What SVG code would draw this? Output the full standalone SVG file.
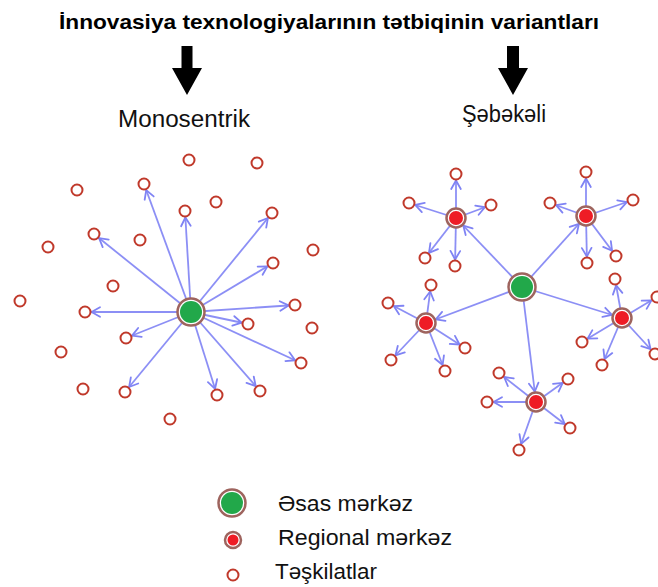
<svg xmlns="http://www.w3.org/2000/svg" width="658" height="587" viewBox="0 0 658 587">
  <style>
    .title { font-family: "Liberation Sans", "DejaVu Sans", sans-serif; font-weight: bold; font-size: 21px; fill: #000; }
    .label { font-family: "Liberation Sans", "DejaVu Sans", sans-serif; font-size: 23px; fill: #111; }
    .legend { font-family: "Liberation Sans", "DejaVu Sans", sans-serif; font-size: 22px; fill: #111; }
    .org { fill: #fff; stroke: #c0392b; stroke-width: 2; }
    .ring { fill: #fff; stroke: #9e645e; stroke-width: 2.5; }
    .main { fill: #22a84a; }
    .reg { fill: #ee1c25; }
    .link { stroke: #7f83f4; stroke-width: 1.8; stroke-opacity: 0.9; fill: none; }
    .to-org { marker-end: url(#tip); }
    .to-reg { marker-end: url(#tipReg); }
  </style>
  <defs>
    <marker id="tip" markerUnits="userSpaceOnUse" markerWidth="16" markerHeight="16" refX="15" refY="0" orient="auto" overflow="visible">
      <path d="M0,-4.8 L8.5,0 L0,4.8" fill="none" stroke="#7f83f4" stroke-width="1.8" stroke-linejoin="round" stroke-linecap="round"/>
    </marker>
    <marker id="tipReg" markerUnits="userSpaceOnUse" markerWidth="16" markerHeight="16" refX="19" refY="0" orient="auto" overflow="visible">
      <path d="M0,-4.8 L8.5,0 L0,4.8" fill="none" stroke="#7f83f4" stroke-width="1.8" stroke-linejoin="round" stroke-linecap="round"/>
    </marker>
  </defs>
  <rect width="658" height="587" fill="#fff"/>

  <!-- heading and the two variants -->
  <g id="heading">
    <text class="title" x="59" y="29" textLength="540" lengthAdjust="spacingAndGlyphs">İnnovasiya texnologiyalarının tətbiqinin variantları</text>
  </g>
  <g id="arrow-left">
    <path d="M181.5,46 H192.5 V68 H202 L187,95 L172,68 H181.5 Z" fill="#000"/>
  </g>
  <g id="arrow-right">
    <path d="M507,46 H519 V68 H528 L513,95 L498,68 H507 Z" fill="#000"/>
  </g>
  <g id="label-mono">
    <text class="label" x="118" y="127" textLength="132" lengthAdjust="spacingAndGlyphs">Monosentrik</text>
  </g>
  <g id="label-net">
    <text class="label" x="462" y="122" textLength="84" lengthAdjust="spacingAndGlyphs">Şəbəkəli</text>
  </g>

  <!-- connectors -->
  <g id="connectors">
    <!-- monocentric: hub to organisations -->
    <line class="link to-org" x1="191" y1="312" x2="144" y2="184"/>
    <line class="link to-org" x1="191" y1="312" x2="185" y2="211"/>
    <line class="link to-org" x1="191" y1="312" x2="272" y2="213"/>
    <line class="link to-org" x1="191" y1="312" x2="273" y2="263"/>
    <line class="link to-org" x1="191" y1="312" x2="94" y2="234"/>
    <line class="link to-org" x1="191" y1="312" x2="85" y2="312"/>
    <line class="link to-org" x1="191" y1="312" x2="295" y2="305"/>
    <line class="link to-org" x1="191" y1="312" x2="248" y2="324"/>
    <line class="link to-org" x1="191" y1="312" x2="126" y2="338"/>
    <line class="link to-org" x1="191" y1="312" x2="301" y2="363"/>
    <line class="link to-org" x1="191" y1="312" x2="125" y2="392"/>
    <line class="link to-org" x1="191" y1="312" x2="217" y2="395"/>
    <line class="link to-org" x1="191" y1="312" x2="260" y2="391"/>
    <!-- network: main hub to regional hubs -->
    <line class="link to-reg" x1="522" y1="287" x2="456" y2="218"/>
    <line class="link to-reg" x1="522" y1="287" x2="586" y2="216"/>
    <line class="link to-reg" x1="522" y1="287" x2="426" y2="323"/>
    <line class="link to-reg" x1="522" y1="287" x2="622" y2="318"/>
    <line class="link to-reg" x1="522" y1="287" x2="536" y2="402"/>
    <!-- regional hub A -->
    <line class="link to-org" x1="456" y1="218" x2="456" y2="174"/>
    <line class="link to-org" x1="456" y1="218" x2="409" y2="203"/>
    <line class="link to-org" x1="456" y1="218" x2="491" y2="205"/>
    <line class="link to-org" x1="456" y1="218" x2="425" y2="258"/>
    <line class="link to-org" x1="456" y1="218" x2="455" y2="266"/>
    <!-- regional hub B -->
    <line class="link to-org" x1="586" y1="216" x2="586" y2="172"/>
    <line class="link to-org" x1="586" y1="216" x2="550" y2="203"/>
    <line class="link to-org" x1="586" y1="216" x2="633" y2="200"/>
    <line class="link to-org" x1="586" y1="216" x2="587" y2="263"/>
    <line class="link to-org" x1="586" y1="216" x2="616" y2="256"/>
    <!-- regional hub C -->
    <line class="link to-org" x1="426" y1="323" x2="431" y2="285"/>
    <line class="link to-org" x1="426" y1="323" x2="388" y2="303"/>
    <line class="link to-org" x1="426" y1="323" x2="465" y2="348"/>
    <line class="link to-org" x1="426" y1="323" x2="391" y2="360"/>
    <line class="link to-org" x1="426" y1="323" x2="445" y2="371"/>
    <!-- regional hub D -->
    <line class="link to-org" x1="622" y1="318" x2="615" y2="279"/>
    <line class="link to-org" x1="622" y1="318" x2="657" y2="297"/>
    <line class="link to-org" x1="622" y1="318" x2="582" y2="342"/>
    <line class="link to-org" x1="622" y1="318" x2="602" y2="365"/>
    <line class="link to-org" x1="622" y1="318" x2="655" y2="354"/>
    <!-- regional hub E -->
    <line class="link to-org" x1="536" y1="402" x2="499" y2="373"/>
    <line class="link to-org" x1="536" y1="402" x2="568" y2="379"/>
    <line class="link to-org" x1="536" y1="402" x2="487" y2="402"/>
    <line class="link to-org" x1="536" y1="402" x2="570" y2="428"/>
    <line class="link to-org" x1="536" y1="402" x2="519" y2="450"/>
  </g>

  <!-- monocentric hub -->
  <g id="mono-hub">
    <circle class="ring" cx="191" cy="312" r="13.5"/>
    <circle class="main" cx="191" cy="312" r="11"/>
  </g>
  <!-- monocentric organisations -->
  <g id="mono-orgs">
    <g id="m1"><circle class="org" cx="189" cy="160" r="5.5"/></g>
    <g id="m2"><circle class="org" cx="257" cy="163" r="5.5"/></g>
    <g id="m3"><circle class="org" cx="77" cy="190" r="5.5"/></g>
    <g id="m4"><circle class="org" cx="144" cy="184" r="5.5"/></g>
    <g id="m5"><circle class="org" cx="216" cy="202" r="5.5"/></g>
    <g id="m6"><circle class="org" cx="185" cy="211" r="5.5"/></g>
    <g id="m7"><circle class="org" cx="272" cy="213" r="5.5"/></g>
    <g id="m8"><circle class="org" cx="313" cy="250" r="5.5"/></g>
    <g id="m9"><circle class="org" cx="94" cy="234" r="5.5"/></g>
    <g id="m10"><circle class="org" cx="140" cy="240" r="5.5"/></g>
    <g id="m11"><circle class="org" cx="48" cy="247" r="5.5"/></g>
    <g id="m12"><circle class="org" cx="273" cy="263" r="5.5"/></g>
    <g id="m13"><circle class="org" cx="113" cy="286" r="5.5"/></g>
    <g id="m14"><circle class="org" cx="20" cy="301" r="5.5"/></g>
    <g id="m15"><circle class="org" cx="85" cy="312" r="5.5"/></g>
    <g id="m16"><circle class="org" cx="295" cy="305" r="5.5"/></g>
    <g id="m17"><circle class="org" cx="248" cy="324" r="5.5"/></g>
    <g id="m18"><circle class="org" cx="312" cy="328" r="5.5"/></g>
    <g id="m19"><circle class="org" cx="126" cy="338" r="5.5"/></g>
    <g id="m20"><circle class="org" cx="61" cy="352" r="5.5"/></g>
    <g id="m21"><circle class="org" cx="301" cy="363" r="5.5"/></g>
    <g id="m22"><circle class="org" cx="83" cy="389" r="5.5"/></g>
    <g id="m23"><circle class="org" cx="125" cy="392" r="5.5"/></g>
    <g id="m24"><circle class="org" cx="217" cy="395" r="5.5"/></g>
    <g id="m25"><circle class="org" cx="260" cy="391" r="5.5"/></g>
    <g id="m26"><circle class="org" cx="170" cy="419" r="5.5"/></g>
  </g>

  <!-- network: main hub -->
  <g id="net-hub">
    <circle class="ring" cx="522" cy="287" r="13.5"/>
    <circle class="main" cx="522" cy="287" r="11"/>
  </g>
  <!-- network: regional hubs -->
  <g id="reg-a"><circle class="ring" cx="456" cy="218" r="9.5" stroke-width="2"/><circle class="reg" cx="456" cy="218" r="7"/></g>
  <g id="reg-b"><circle class="ring" cx="586" cy="216" r="9.5" stroke-width="2"/><circle class="reg" cx="586" cy="216" r="7"/></g>
  <g id="reg-c"><circle class="ring" cx="426" cy="323" r="9.5" stroke-width="2"/><circle class="reg" cx="426" cy="323" r="7"/></g>
  <g id="reg-d"><circle class="ring" cx="622" cy="318" r="9.5" stroke-width="2"/><circle class="reg" cx="622" cy="318" r="7"/></g>
  <g id="reg-e"><circle class="ring" cx="536" cy="402" r="9.5" stroke-width="2"/><circle class="reg" cx="536" cy="402" r="7"/></g>
  <!-- network: organisations -->
  <g id="net-orgs">
    <g id="a1"><circle class="org" cx="456" cy="174" r="5.5"/></g>
    <g id="a2"><circle class="org" cx="409" cy="203" r="5.5"/></g>
    <g id="a3"><circle class="org" cx="491" cy="205" r="5.5"/></g>
    <g id="a4"><circle class="org" cx="425" cy="258" r="5.5"/></g>
    <g id="a5"><circle class="org" cx="455" cy="266" r="5.5"/></g>
    <g id="b1"><circle class="org" cx="586" cy="172" r="5.5"/></g>
    <g id="b2"><circle class="org" cx="550" cy="203" r="5.5"/></g>
    <g id="b3"><circle class="org" cx="633" cy="200" r="5.5"/></g>
    <g id="b4"><circle class="org" cx="587" cy="263" r="5.5"/></g>
    <g id="b5"><circle class="org" cx="616" cy="256" r="5.5"/></g>
    <g id="c1"><circle class="org" cx="431" cy="285" r="5.5"/></g>
    <g id="c2"><circle class="org" cx="388" cy="303" r="5.5"/></g>
    <g id="c3"><circle class="org" cx="465" cy="348" r="5.5"/></g>
    <g id="c4"><circle class="org" cx="391" cy="360" r="5.5"/></g>
    <g id="c5"><circle class="org" cx="445" cy="371" r="5.5"/></g>
    <g id="d1"><circle class="org" cx="615" cy="279" r="5.5"/></g>
    <g id="d2"><circle class="org" cx="657" cy="297" r="5.5"/></g>
    <g id="d3"><circle class="org" cx="582" cy="342" r="5.5"/></g>
    <g id="d4"><circle class="org" cx="602" cy="365" r="5.5"/></g>
    <g id="d5"><circle class="org" cx="655" cy="354" r="5.5"/></g>
    <g id="e1"><circle class="org" cx="499" cy="373" r="5.5"/></g>
    <g id="e2"><circle class="org" cx="568" cy="379" r="5.5"/></g>
    <g id="e3"><circle class="org" cx="487" cy="402" r="5.5"/></g>
    <g id="e4"><circle class="org" cx="570" cy="428" r="5.5"/></g>
    <g id="e5"><circle class="org" cx="519" cy="450" r="5.5"/></g>
  </g>

  <!-- legend -->
  <g id="legend-main">
    <circle class="ring" cx="232" cy="503" r="13.5"/>
    <circle class="main" cx="232" cy="503" r="11"/>
    <text class="legend" x="278" y="511" textLength="135" lengthAdjust="spacingAndGlyphs">Əsas mərkəz</text>
  </g>
  <g id="legend-regional">
    <circle class="ring" cx="233" cy="540" r="8" stroke-width="2"/>
    <circle class="reg" cx="233" cy="540" r="5.5"/>
    <text class="legend" x="278" y="545" textLength="174" lengthAdjust="spacingAndGlyphs">Regional mərkəz</text>
  </g>
  <g id="legend-org">
    <circle class="org" cx="233" cy="575" r="5.5"/>
    <text class="legend" x="275" y="579" textLength="102" lengthAdjust="spacingAndGlyphs">Təşkilatlar</text>
  </g>
</svg>
